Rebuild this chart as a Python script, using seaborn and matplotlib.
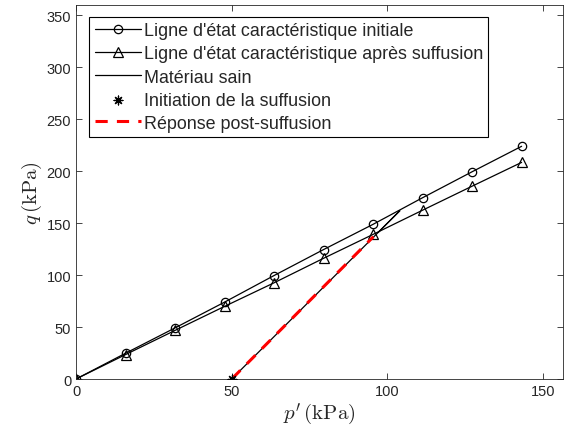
import matplotlib
matplotlib.use("Agg")
import matplotlib.pyplot as plt
import seaborn as sns
import pandas as pd

p_lec = [0, 15.9, 31.8, 47.7, 63.6, 79.5, 95.4, 111.3, 127.2, 143.1]
q_initiale = [0, 24.8, 49.2, 74.0, 99.6, 124.6, 148.9, 174.5, 199.5, 224.0]
q_apres = [0, 23.5, 46.8, 69.9, 92.6, 116.2, 139.2, 162.5, 185.6, 208.5]
p_sain = [50, 104, 97]
q_sain = [0, 162, 141]
p_init_suff = [50]
q_init_suff = [0]
p_post = [50, 95.5]
q_post = [0, 137]

labels = ["Ligne d'état caractéristique initiale",
          "Ligne d'état caractéristique après suffusion",
          "Matériau sain",
          "Initiation de la suffusion",
          "Réponse post-suffusion"]

sns.set_style("ticks")
plt.rcParams['font.family'] = ['Liberation Sans', 'DejaVu Sans']
plt.rcParams['mathtext.fontset'] = 'cm'

fig = plt.figure(figsize=(5.69, 4.35), dpi=100)
ax = fig.add_axes([0.1336, 0.1264, 0.8559, 0.8598])

axc = '#262626'
df1 = pd.DataFrame({'p': p_lec, 'q': q_initiale})
df2 = pd.DataFrame({'p': p_lec, 'q': q_apres})
sns.lineplot(data=df1, x='p', y='q', ax=ax, color='black', lw=0.9, marker='o',
             markersize=6, markerfacecolor='none', markeredgecolor='black',
             markeredgewidth=0.9, sort=False, estimator=None, label=labels[0])
sns.lineplot(data=df2, x='p', y='q', ax=ax, color='black', lw=0.9, marker='^',
             markersize=7, markerfacecolor='none', markeredgecolor='black',
             markeredgewidth=0.9, sort=False, estimator=None, label=labels[1])
sns.lineplot(x=p_sain, y=q_sain, ax=ax, color='black', lw=0.9, sort=False,
             estimator=None, label=labels[2])
sns.scatterplot(x=p_init_suff, y=q_init_suff, ax=ax, color='black', marker=(8, 2, 0),
                s=40, linewidth=0.9, edgecolor='black', label=labels[3], zorder=5)
sns.lineplot(x=p_post, y=q_post, ax=ax, color='red', lw=2.2, sort=False,
             estimator=None, label=labels[4], zorder=4)
ax.lines[-1].set_dashes([4, 3])

ax.set_xlim(0, 156.4)
ax.set_ylim(0, 360)
ax.set_xticks([0, 50, 100, 150])
ax.set_yticks(range(0, 351, 50))
ax.tick_params(direction='in', top=True, right=True, labelsize=10.5,
               colors=axc, labelcolor=axc, length=4, width=0.6)
for s in ax.spines.values():
    s.set_visible(True)
    s.set_color(axc)
    s.set_linewidth(0.6)
ax.set_xlabel(r"$p'\,(\mathrm{kPa})$", fontsize=15, labelpad=2)
ax.set_ylabel(r"$q\,(\mathrm{kPa})$", fontsize=15, labelpad=2)

leg = ax.legend(loc='upper left', bbox_to_anchor=(0.027, 0.968), borderaxespad=0,
                fontsize=12.9, frameon=True, fancybox=False, framealpha=1,
                edgecolor='black', handlelength=2.6, handletextpad=0.15,
                labelspacing=0.34, borderpad=0.3, numpoints=1, scatterpoints=1)
leg.get_frame().set_linewidth(0.8)

fig.savefig('out.png', dpi=100)
